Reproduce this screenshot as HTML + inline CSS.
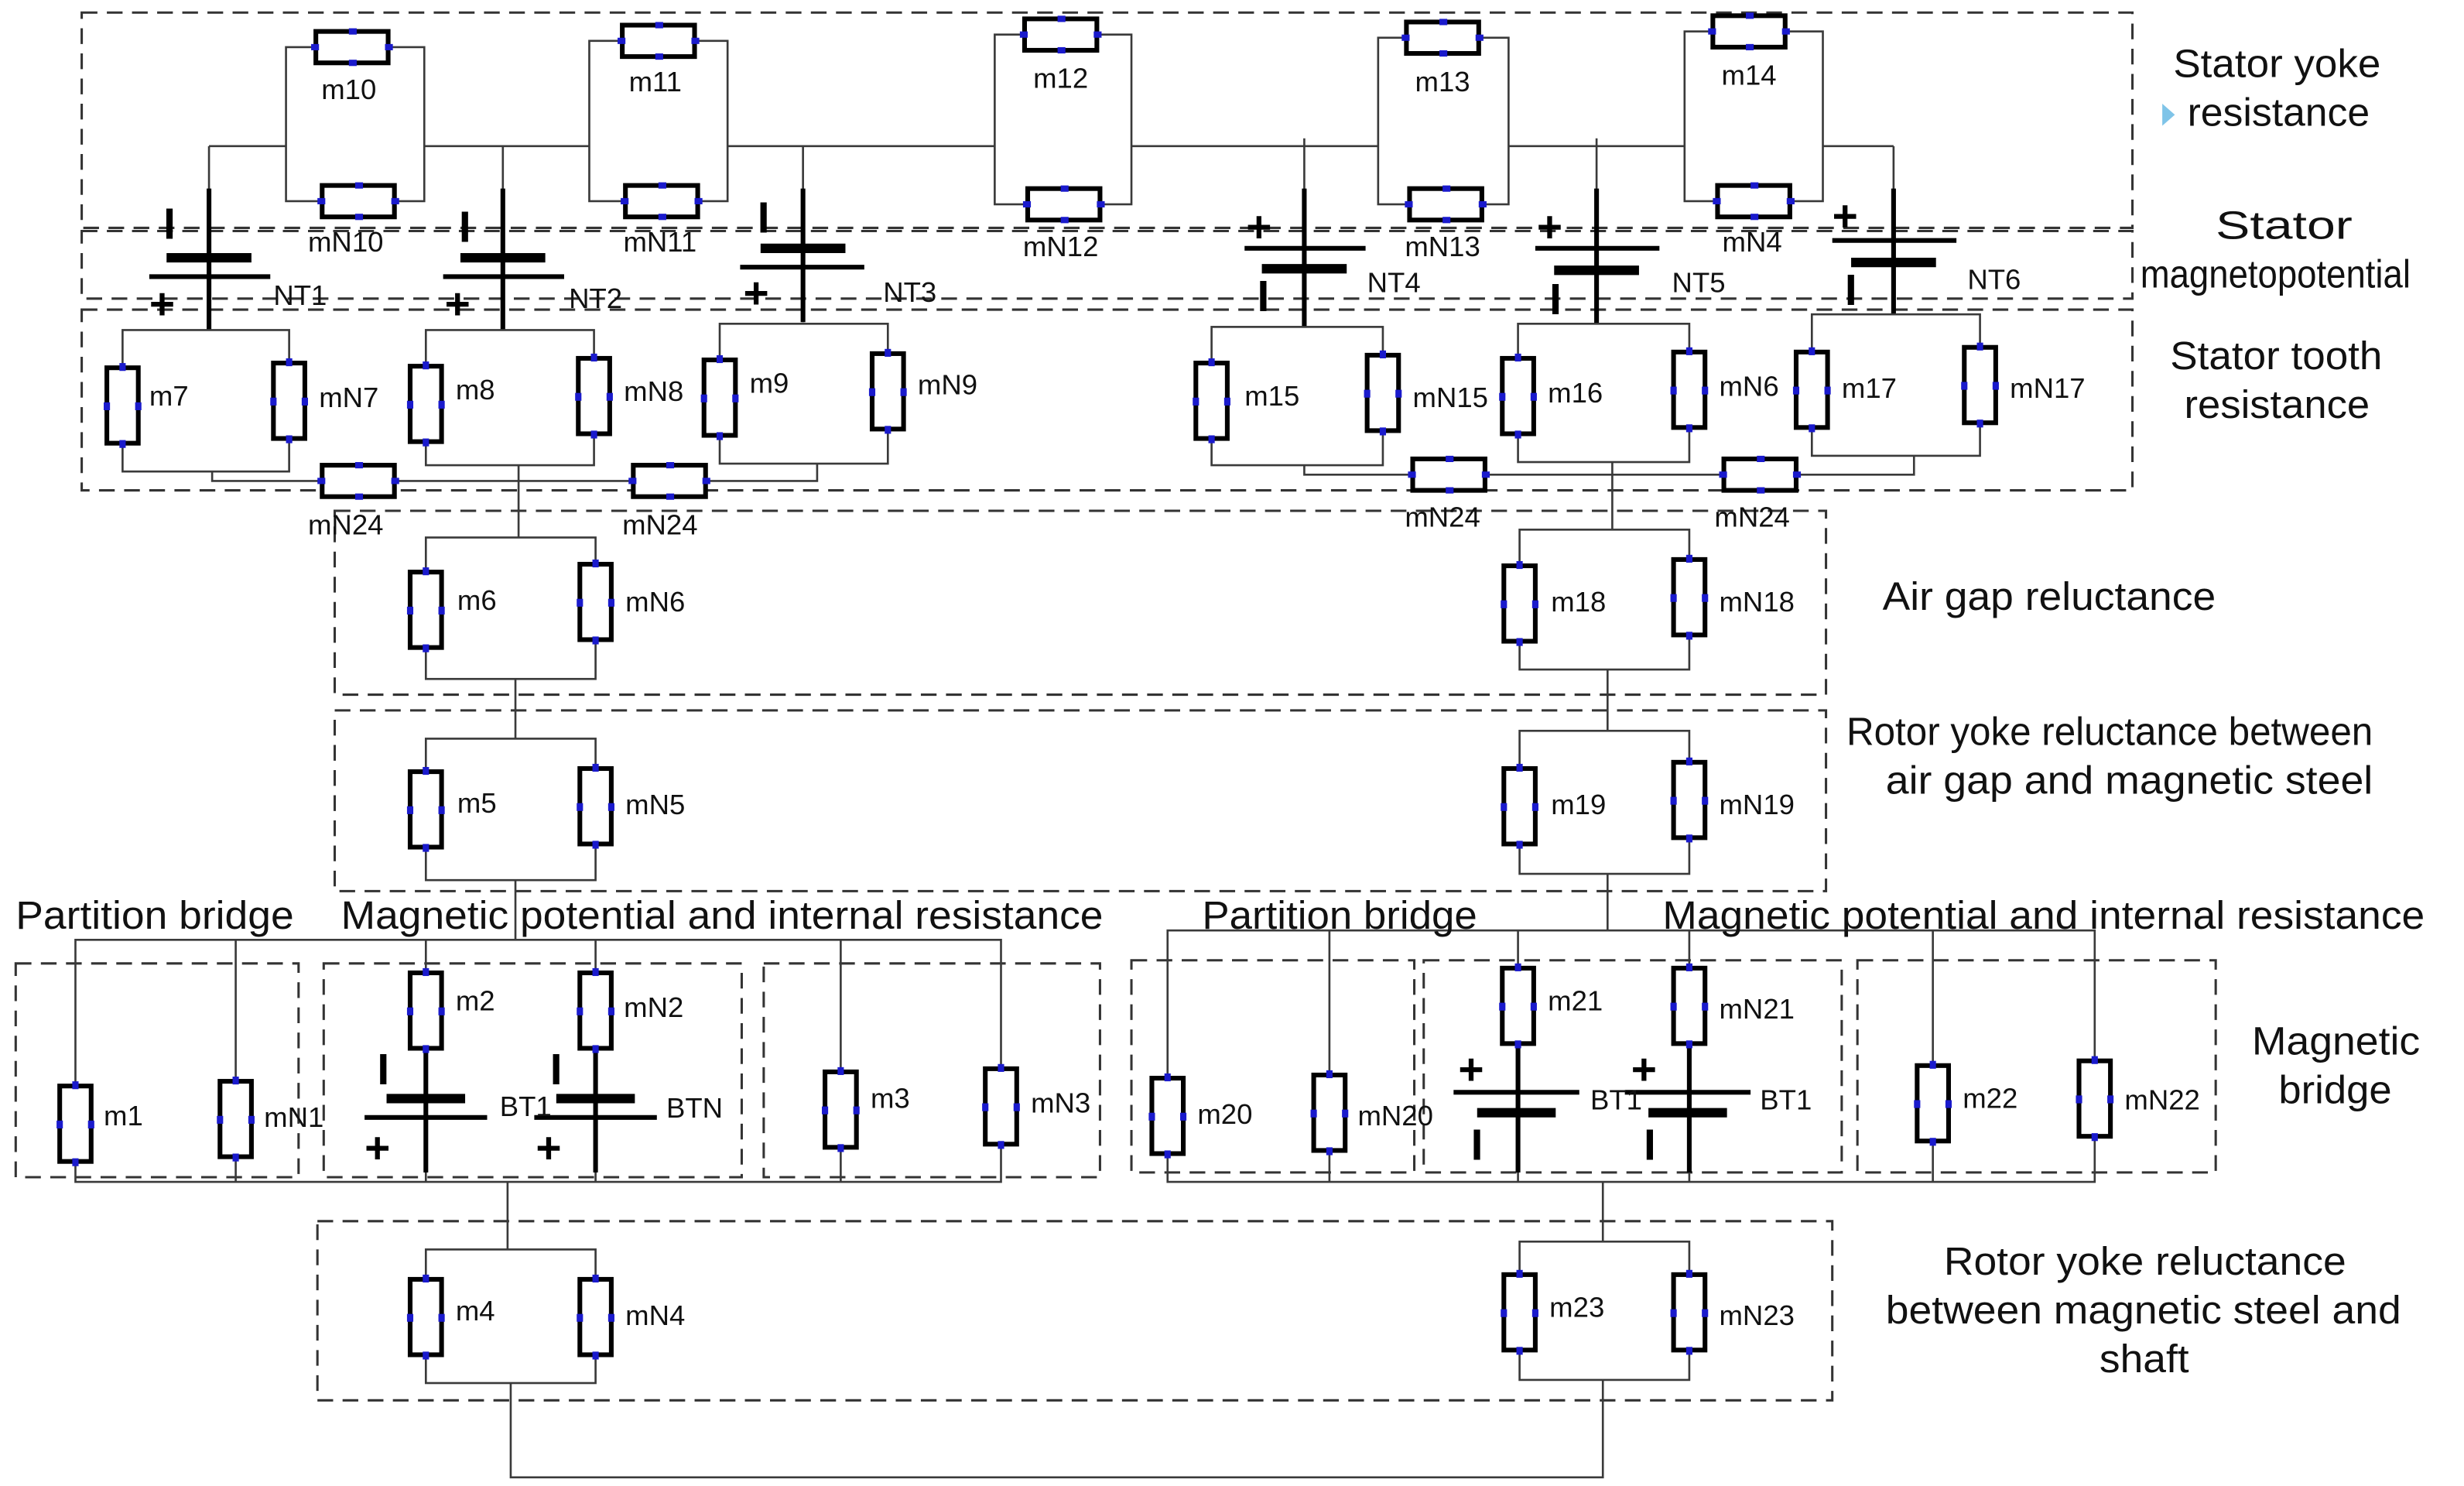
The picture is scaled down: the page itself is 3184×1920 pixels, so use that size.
<!DOCTYPE html>
<html><head><meta charset="utf-8"><style>
html,body{margin:0;padding:0;background:#fff;}
svg{display:block;}
text{font-family:"Liberation Sans",sans-serif;}
.w{fill:none;stroke:#3a3a3a;stroke-width:1.3;}
.d{fill:none;stroke:#333;stroke-width:1.5;stroke-dasharray:10 6;}
.l{font-size:18px;fill:#111;}
.t{font-size:25px;fill:#111;}
.s{font-size:28px;fill:#000;font-weight:bold;}
.b{stroke:#000;}
</style></head><body>
<svg width="3184" height="1920" viewBox="0 0 1568 945.5" preserveAspectRatio="none" xmlns="http://www.w3.org/2000/svg">
<defs>
<symbol id="rv" overflow="visible"><rect x="-10" y="-24" width="20" height="48" fill="#fff" stroke="#000" stroke-width="3"/>
<g fill="#1a1acc"><rect x="-2" y="-27" width="4" height="5"/><rect x="-2" y="22" width="4" height="5"/><rect x="-12" y="-2" width="4" height="5"/><rect x="8" y="-2" width="4" height="5"/></g></symbol>
<symbol id="rh" overflow="visible"><rect x="-23" y="-10" width="46" height="20" fill="#fff" stroke="#000" stroke-width="3"/>
<g fill="#1a1acc"><rect x="-26" y="-2" width="5" height="4"/><rect x="21" y="-2" width="5" height="4"/><rect x="-2" y="-12" width="5" height="4"/><rect x="-2" y="8" width="5" height="4"/></g></symbol>
</defs>

<rect class="d" x="52" y="8" width="1305" height="137"/>
<rect class="d" x="52" y="147" width="1305" height="43"/>
<rect class="d" x="52" y="197" width="1305" height="115"/>
<rect class="d" x="213" y="325" width="949" height="117"/>
<rect class="d" x="213" y="452" width="949" height="115"/>
<rect class="d" x="10" y="613" width="180" height="136"/>
<rect class="d" x="206" y="613" width="266" height="136"/>
<rect class="d" x="486" y="613" width="214" height="136"/>
<rect class="d" x="720" y="611" width="180" height="135"/>
<rect class="d" x="906" y="611" width="266" height="135"/>
<rect class="d" x="1182" y="611" width="228" height="135"/>
<rect class="d" x="202" y="777" width="964" height="114"/>

<g class="w">
<rect x="182" y="30" width="88" height="98"/>
<rect x="375" y="26" width="88" height="102"/>
<rect x="633" y="22" width="87" height="108"/>
<rect x="877" y="24" width="83" height="106"/>
<rect x="1072" y="20" width="88" height="108"/>
<path d="M133 93H182M270 93H375M463 93H633M720 93H877M960 93H1072M1160 93H1205"/>
<path d="M133 93V210M320 93V210M511 93V205M830 88V208M1016 88V206M1205 93V200"/>
</g>
<use href="#rh" x="224" y="30"/><use href="#rh" x="228" y="128"/>
<use href="#rh" x="419" y="26"/><use href="#rh" x="421" y="128"/>
<use href="#rh" x="675" y="22"/><use href="#rh" x="677" y="130"/>
<use href="#rh" x="918" y="24"/><use href="#rh" x="920" y="130"/>
<use href="#rh" x="1113" y="20"/><use href="#rh" x="1116" y="128"/>
<g class="l" text-anchor="middle">
<text x="222" y="63">m10</text><text x="220" y="160">mN10</text>
<text x="417" y="58">m11</text><text x="420" y="160">mN11</text>
<text x="675" y="56">m12</text><text x="675" y="163">mN12</text>
<text x="918" y="58">m13</text><text x="918" y="163">mN13</text>
<text x="1113" y="54">m14</text><text x="1115" y="160">mN4</text>
</g>

<g class="b">
<path d="M133 120V210M320 120V210M511 120V205M830 120V208M1016 120V206M1205 120V200" stroke-width="3"/>
<path d="M106 164H160M293 164H347M484 158H538M803 171H857M989 172H1043M1178 167H1232" stroke-width="6"/>
<path d="M95 176H172M282 176H359M471 170H550M792 158H869M977 158H1056M1166 153H1245" stroke-width="3"/>
</g>
<g class="s">
<text x="104" y="152">I</text><text x="95" y="203">+</text>
<text x="292" y="154">I</text><text x="283" y="203">+</text>
<text x="482" y="148">I</text><text x="473" y="196">+</text>
<text x="793" y="154">+</text><text x="800" y="198">I</text>
<text x="978" y="154">+</text><text x="986" y="200">I</text>
<text x="1166" y="147">+</text><text x="1174" y="194">I</text>
</g>
<g class="l">
<text x="174" y="194">NT1</text><text x="362" y="196">NT2</text><text x="562" y="192">NT3</text>
<text x="870" y="186">NT4</text><text x="1064" y="186">NT5</text><text x="1252" y="184">NT6</text>
</g>

<g class="w">
<rect x="78" y="210" width="106" height="90"/>
<rect x="271" y="210" width="107" height="86"/>
<rect x="458" y="206" width="107" height="89"/>
<rect x="771" y="208" width="109" height="88"/>
<rect x="966" y="206" width="109" height="88"/>
<rect x="1153" y="200" width="107" height="90"/>
<path d="M135 300V306H520V295M830 296V302H1218V290"/>
<path d="M330 296V342M1026 294V337"/>
</g>
<use href="#rv" x="78" y="258"/><use href="#rv" x="184" y="255"/>
<use href="#rv" x="271" y="257"/><use href="#rv" x="378" y="252"/>
<use href="#rv" x="458" y="253"/><use href="#rv" x="565" y="249"/>
<use href="#rv" x="771" y="255"/><use href="#rv" x="880" y="250"/>
<use href="#rv" x="966" y="252"/><use href="#rv" x="1075" y="248"/>
<use href="#rv" x="1153" y="248"/><use href="#rv" x="1260" y="245"/>
<use href="#rh" x="228" y="306"/><use href="#rh" x="426" y="306"/>
<use href="#rh" x="922" y="302"/><use href="#rh" x="1120" y="302"/>
<g class="l">
<text x="95" y="258">m7</text><text x="203" y="259">mN7</text>
<text x="290" y="254">m8</text><text x="397" y="255">mN8</text>
<text x="477" y="250">m9</text><text x="584" y="251">mN9</text>
<text x="792" y="258">m15</text><text x="899" y="259">mN15</text>
<text x="985" y="256">m16</text><text x="1094" y="252">mN6</text>
<text x="1172" y="253">m17</text><text x="1279" y="253">mN17</text>
</g>
<g class="l" text-anchor="middle">
<text x="220" y="340">mN24</text><text x="420" y="340">mN24</text>
<text x="918" y="335">mN24</text><text x="1115" y="335">mN24</text>
</g>

<g class="w">
<rect x="271" y="342" width="108" height="90"/>
<rect x="967" y="337" width="108" height="89"/>
<path d="M328 432V470M1023 426V465"/>
<rect x="271" y="470" width="108" height="90"/>
<rect x="967" y="465" width="108" height="91"/>
<path d="M328 560V598M1023 556V592"/>
</g>
<use href="#rv" x="271" y="388"/><use href="#rv" x="379" y="383"/>
<use href="#rv" x="967" y="384"/><use href="#rv" x="1075" y="380"/>
<use href="#rv" x="271" y="515"/><use href="#rv" x="379" y="513"/>
<use href="#rv" x="967" y="513"/><use href="#rv" x="1075" y="509"/>
<g class="l">
<text x="291" y="388">m6</text><text x="398" y="389">mN6</text>
<text x="987" y="389">m18</text><text x="1094" y="389">mN18</text>
<text x="291" y="517">m5</text><text x="398" y="518">mN5</text>
<text x="987" y="518">m19</text><text x="1094" y="518">mN19</text>
</g>

<g class="w">
<path d="M48 752V598H637V752ZM150 598V752M271 598V752M379 598V752M535 598V752"/>
<path d="M323 752V795"/>
<path d="M743 752V592H1333V752ZM846 592V752M966 592V752M1075 592V752M1230 592V752"/>
<path d="M1020 752V790"/>
</g>
<g class="b">
<path d="M271 660V746M379 660V746M966 660V746M1075 660V746" stroke-width="3"/>
<path d="M246 699H296M354 699H404M940 708H990M1049 708H1099" stroke-width="6"/>
<path d="M232 711H310M340 711H418M925 695H1005M1034 695H1114" stroke-width="3"/>
</g>
<use href="#rv" x="48" y="715"/><use href="#rv" x="150" y="712"/>
<use href="#rv" x="271" y="643"/><use href="#rv" x="379" y="643"/>
<use href="#rv" x="535" y="706"/><use href="#rv" x="637" y="704"/>
<use href="#rv" x="743" y="710"/><use href="#rv" x="846" y="708"/>
<use href="#rv" x="966" y="640"/><use href="#rv" x="1075" y="640"/>
<use href="#rv" x="1230" y="702"/><use href="#rv" x="1333" y="699"/>
<g class="s">
<text x="240" y="690">I</text><text x="232" y="740">+</text>
<text x="350" y="690">I</text><text x="341" y="740">+</text>
<text x="928" y="690">+</text><text x="936" y="738">I</text>
<text x="1038" y="690">+</text><text x="1046" y="738">I</text>
</g>
<g class="l">
<text x="66" y="716">m1</text><text x="168" y="717">mN1</text>
<text x="290" y="643">m2</text><text x="397" y="647">mN2</text>
<text x="318" y="710">BT1</text><text x="424" y="711">BTN</text>
<text x="554" y="705">m3</text><text x="656" y="708">mN3</text>
<text x="762" y="715">m20</text><text x="864" y="716">mN20</text>
<text x="985" y="643">m21</text><text x="1094" y="648">mN21</text>
<text x="1012" y="706">BT1</text><text x="1120" y="706">BT1</text>
<text x="1249" y="705">m22</text><text x="1352" y="706">mN22</text>
</g>

<g class="w">
<rect x="271" y="795" width="108" height="85"/>
<rect x="967" y="790" width="108" height="88"/>
<path d="M325 880V940H1020V878"/>
</g>
<use href="#rv" x="271" y="838"/><use href="#rv" x="379" y="838"/>
<use href="#rv" x="967" y="835"/><use href="#rv" x="1075" y="835"/>
<g class="l">
<text x="290" y="840">m4</text><text x="398" y="843">mN4</text>
<text x="986" y="838">m23</text><text x="1094" y="843">mN23</text>
</g>

<g class="t" lengthAdjust="spacingAndGlyphs">
<text x="10" y="591" textLength="177" lengthAdjust="spacingAndGlyphs">Partition bridge</text>
<text x="217" y="591" textLength="485" lengthAdjust="spacingAndGlyphs">Magnetic potential and internal resistance</text>
<text x="765" y="591" textLength="175" lengthAdjust="spacingAndGlyphs">Partition bridge</text>
<text x="1058" y="591" textLength="485" lengthAdjust="spacingAndGlyphs">Magnetic potential and internal resistance</text>
<text x="1383" y="49" textLength="132" lengthAdjust="spacingAndGlyphs">Stator yoke</text>
<text x="1392" y="80" textLength="116" lengthAdjust="spacingAndGlyphs">resistance</text>
<text x="1410" y="152" textLength="87" lengthAdjust="spacingAndGlyphs">Stator</text>
<text x="1362" y="183" textLength="172" lengthAdjust="spacingAndGlyphs">magnetopotential</text>
<text x="1381" y="235" textLength="135" lengthAdjust="spacingAndGlyphs">Stator tooth</text>
<text x="1390" y="266" textLength="118" lengthAdjust="spacingAndGlyphs">resistance</text>
<text x="1198" y="388" textLength="212" lengthAdjust="spacingAndGlyphs">Air gap reluctance</text>
<text x="1175" y="474" textLength="335" lengthAdjust="spacingAndGlyphs">Rotor yoke reluctance between</text>
<text x="1200" y="505" textLength="310" lengthAdjust="spacingAndGlyphs">air gap and magnetic steel</text>
<text x="1433" y="671" textLength="107" lengthAdjust="spacingAndGlyphs">Magnetic</text>
<text x="1450" y="702" textLength="72" lengthAdjust="spacingAndGlyphs">bridge</text>
<text x="1237" y="811" textLength="256" lengthAdjust="spacingAndGlyphs">Rotor yoke reluctance</text>
<text x="1200" y="842" textLength="328" lengthAdjust="spacingAndGlyphs">between magnetic steel and</text>
<text x="1336" y="873" textLength="57" lengthAdjust="spacingAndGlyphs">shaft</text>
</g>
<path d="M1376 66L1384 73L1376 80Z" fill="#7fc4e8"/>
</svg>
</body></html>
